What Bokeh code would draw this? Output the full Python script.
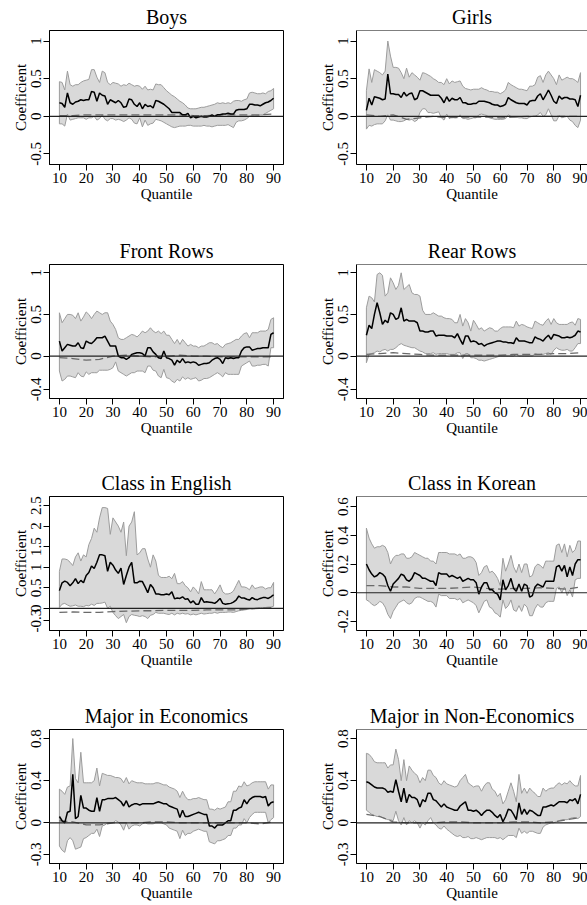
from bokeh.plotting import figure
from bokeh.layouts import column, row
from bokeh.models import FixedTicker, Span, BoxAnnotation
from bokeh.embed import file_html
from bokeh.resources import INLINE

# ---------------- data ----------------
quantiles = list(range(10, 91))
dash_quantiles = list(range(10, 91, 5))
x_ticks = [10, 20, 30, 40, 50, 60, 70, 80, 90]

titles = ["Boys", "Girls", "Front Rows", "Rear Rows",
          "Class in English", "Class in Korean",
          "Major in Economics", "Major in Non-Economics"]

boys_hi = [0.46,0.45,0.35,0.60,0.42,0.40,0.42,0.42,0.45,0.47,
           0.48,0.49,0.62,0.62,0.52,0.45,0.60,0.58,0.45,0.42,
           0.45,0.44,0.43,0.40,0.42,0.41,0.44,0.42,0.40,0.41,
           0.40,0.36,0.40,0.35,0.36,0.35,0.43,0.42,0.42,0.38,
           0.34,0.31,0.28,0.26,0.23,0.20,0.18,0.15,0.11,0.10,
           0.10,0.10,0.11,0.12,0.12,0.13,0.14,0.15,0.16,0.18,
           0.17,0.18,0.17,0.18,0.17,0.20,0.21,0.21,0.20,0.22,
           0.23,0.31,0.32,0.31,0.30,0.30,0.31,0.30,0.33,0.34,
           0.37]
boys_est = [0.18,0.17,0.12,0.31,0.18,0.16,0.19,0.20,0.22,0.21,
            0.22,0.22,0.33,0.32,0.20,0.31,0.28,0.27,0.16,0.22,
            0.20,0.18,0.21,0.18,0.12,0.13,0.23,0.22,0.16,0.13,
            0.18,0.10,0.16,0.13,0.14,0.11,0.21,0.20,0.18,0.16,
            0.13,0.10,0.05,0.05,0.05,0.05,0.02,0.02,0.04,-0.02,
            0.00,-0.02,-0.01,0.00,-0.01,-0.01,0.00,0.02,0.00,0.02,
            0.02,0.03,0.03,0.04,0.03,0.03,0.08,0.09,0.09,0.09,
            0.10,0.16,0.16,0.15,0.15,0.14,0.16,0.18,0.19,0.21,
            0.24]
boys_lo = [-0.10,-0.10,-0.13,0.03,-0.05,-0.04,-0.03,-0.02,-0.02,-0.02,
           -0.04,-0.02,-0.02,0.00,-0.05,-0.03,0.02,-0.04,-0.06,-0.03,
           -0.03,-0.05,-0.04,-0.05,-0.07,-0.05,-0.02,-0.04,-0.09,-0.10,
           -0.02,-0.14,-0.05,-0.12,-0.10,-0.09,-0.04,-0.05,-0.06,-0.08,
           -0.10,-0.12,-0.14,-0.15,-0.14,-0.13,-0.13,-0.13,-0.12,-0.12,
           -0.13,-0.13,-0.13,-0.13,-0.12,-0.13,-0.13,-0.14,-0.13,-0.12,
           -0.12,-0.12,-0.12,-0.11,-0.13,-0.15,-0.08,-0.06,-0.06,-0.05,
           -0.03,0.00,0.01,0.00,0.01,0.02,0.02,0.04,0.06,0.08,
           0.10]
boys_ols = [0.01,0.01,0.02,0.02,0.02,0.02,0.02,0.02,0.02,0.02,0.01,0.01,0.02,0.02,0.02,0.02,0.03]

girls_hi = [0.34,0.63,0.45,0.62,0.60,0.58,0.55,0.60,1.00,0.80,
            0.65,0.65,0.64,0.58,0.50,0.64,0.52,0.58,0.55,0.52,
            0.48,0.58,0.57,0.55,0.53,0.50,0.48,0.45,0.45,0.42,
            0.50,0.43,0.47,0.45,0.46,0.47,0.40,0.37,0.36,0.35,
            0.36,0.36,0.36,0.38,0.36,0.35,0.33,0.33,0.32,0.32,
            0.30,0.32,0.35,0.45,0.42,0.40,0.38,0.36,0.36,0.35,
            0.34,0.40,0.40,0.42,0.52,0.54,0.45,0.55,0.60,0.55,
            0.50,0.42,0.55,0.48,0.50,0.52,0.50,0.50,0.48,0.45,
            0.58]
girls_est = [0.08,0.24,0.15,0.26,0.25,0.24,0.22,0.23,0.56,0.30,
             0.30,0.29,0.29,0.25,0.32,0.27,0.30,0.31,0.22,0.24,
             0.34,0.34,0.32,0.30,0.28,0.28,0.28,0.28,0.24,0.18,
             0.26,0.20,0.24,0.22,0.22,0.25,0.18,0.18,0.16,0.16,
             0.17,0.17,0.20,0.20,0.20,0.19,0.18,0.16,0.15,0.15,
             0.13,0.14,0.16,0.25,0.22,0.20,0.18,0.17,0.17,0.17,
             0.15,0.20,0.21,0.21,0.27,0.30,0.22,0.28,0.35,0.28,
             0.20,0.17,0.27,0.23,0.25,0.25,0.23,0.23,0.22,0.13,
             0.28]
girls_lo = [-0.17,-0.12,-0.13,-0.11,-0.10,-0.10,-0.10,-0.06,0.02,-0.05,
            -0.05,-0.06,-0.07,-0.07,-0.06,-0.04,-0.05,-0.04,-0.07,-0.05,
            0.05,0.10,0.10,0.05,0.05,0.04,0.05,0.06,-0.02,-0.05,
            0.03,-0.03,0.00,-0.02,-0.02,0.02,-0.03,-0.03,-0.04,-0.03,
            -0.02,-0.02,0.02,0.03,0.02,0.01,-0.02,-0.03,-0.04,-0.04,
            -0.04,-0.04,-0.03,0.02,0.00,-0.01,-0.01,-0.02,-0.02,-0.03,
            -0.03,-0.01,0.00,0.00,0.02,0.05,0.00,0.02,0.10,0.02,
            -0.06,-0.06,0.01,-0.02,-0.01,0.00,-0.05,-0.07,-0.12,-0.15,
            -0.05]
girls_ols = [0.02,0.00,0.02,-0.04,-0.02,0.00,-0.02,-0.01,-0.01,-0.01,-0.02,-0.01,0.00,0.00,0.00,0.00,0.00]

front_hi = [0.52,0.40,0.45,0.50,0.50,0.49,0.45,0.52,0.42,0.47,
            0.53,0.50,0.45,0.50,0.54,0.52,0.50,0.52,0.52,0.42,
            0.38,0.32,0.22,0.20,0.20,0.22,0.24,0.26,0.25,0.23,
            0.26,0.30,0.28,0.30,0.34,0.30,0.28,0.30,0.27,0.30,
            0.25,0.25,0.20,0.15,0.20,0.14,0.20,0.16,0.12,0.14,
            0.12,0.12,0.10,0.12,0.12,0.14,0.16,0.16,0.14,0.15,
            0.12,0.10,0.14,0.15,0.16,0.18,0.20,0.20,0.24,0.27,
            0.28,0.22,0.28,0.28,0.28,0.30,0.30,0.30,0.32,0.44,
            0.46]
front_est = [0.18,0.06,0.10,0.14,0.13,0.12,0.12,0.16,0.10,0.09,
             0.18,0.16,0.15,0.18,0.22,0.22,0.22,0.24,0.18,0.12,
             0.12,0.12,0.00,-0.02,-0.02,-0.04,-0.02,0.02,0.03,0.04,
             0.04,0.03,0.00,0.10,0.10,0.05,0.02,-0.02,-0.03,0.06,
             -0.02,-0.03,-0.05,-0.11,-0.05,-0.08,-0.03,-0.08,-0.07,-0.08,
             -0.07,-0.08,-0.11,-0.10,-0.09,-0.09,-0.08,-0.05,-0.03,-0.02,
             -0.04,-0.09,-0.02,-0.03,-0.02,-0.03,-0.02,-0.02,0.06,0.10,
             0.11,0.11,0.07,0.08,0.09,0.09,0.10,0.10,0.10,0.26,
             0.28]
front_lo = [-0.18,-0.30,-0.28,-0.24,-0.24,-0.25,-0.26,-0.20,-0.24,-0.25,
            -0.19,-0.22,-0.20,-0.20,-0.20,-0.17,-0.17,-0.17,-0.17,-0.16,
            -0.14,-0.07,-0.18,-0.20,-0.22,-0.24,-0.22,-0.20,-0.20,-0.18,
            -0.18,-0.18,-0.20,-0.12,-0.12,-0.17,-0.18,-0.24,-0.26,-0.16,
            -0.26,-0.27,-0.30,-0.32,-0.28,-0.30,-0.25,-0.28,-0.26,-0.28,
            -0.27,-0.26,-0.30,-0.29,-0.27,-0.27,-0.26,-0.24,-0.22,-0.20,
            -0.22,-0.25,-0.20,-0.22,-0.22,-0.22,-0.22,-0.22,-0.12,-0.10,
            -0.08,-0.06,-0.12,-0.12,-0.11,-0.11,-0.10,-0.10,-0.12,0.10,
            0.10]
front_ols = [-0.02,-0.03,-0.05,-0.04,0.00,0.01,0.00,-0.01,0.00,0.01,0.00,0.00,-0.01,-0.01,-0.01,-0.01,-0.01]

rear_hi = [0.58,0.72,0.70,0.65,0.98,1.00,0.97,0.72,0.76,0.94,
           0.88,0.80,0.85,1.00,0.80,0.83,0.86,0.76,0.74,0.74,
           0.72,0.55,0.50,0.50,0.50,0.52,0.50,0.48,0.48,0.46,
           0.45,0.45,0.44,0.40,0.40,0.50,0.36,0.45,0.40,0.30,
           0.43,0.38,0.32,0.34,0.30,0.32,0.34,0.33,0.30,0.30,
           0.33,0.35,0.35,0.35,0.35,0.34,0.42,0.36,0.38,0.37,
           0.35,0.34,0.33,0.42,0.40,0.38,0.37,0.42,0.45,0.38,
           0.45,0.40,0.38,0.38,0.38,0.38,0.40,0.41,0.37,0.45,
           0.44]
rear_est = [0.25,0.37,0.33,0.50,0.64,0.52,0.38,0.43,0.40,0.52,
            0.50,0.44,0.46,0.58,0.42,0.44,0.42,0.42,0.42,0.40,
            0.30,0.30,0.29,0.29,0.30,0.30,0.24,0.25,0.25,0.25,
            0.24,0.24,0.24,0.22,0.27,0.20,0.14,0.24,0.24,0.17,
            0.18,0.17,0.14,0.15,0.12,0.14,0.15,0.16,0.17,0.18,
            0.18,0.17,0.17,0.16,0.16,0.15,0.22,0.18,0.18,0.18,
            0.17,0.16,0.16,0.23,0.21,0.20,0.18,0.22,0.25,0.20,
            0.26,0.25,0.24,0.22,0.22,0.23,0.22,0.23,0.25,0.30,
            0.29]
rear_lo = [-0.08,0.02,0.03,0.04,0.06,0.05,0.07,0.08,0.06,0.08,
           0.08,0.10,0.13,0.15,0.13,0.12,0.11,0.10,0.10,0.08,
           0.06,0.05,0.03,0.03,0.03,0.04,0.02,0.03,0.03,0.03,
           0.03,0.02,0.02,0.02,0.04,0.04,-0.03,0.03,0.03,-0.02,
           -0.02,-0.03,-0.05,-0.05,-0.06,-0.05,-0.04,-0.03,-0.02,-0.01,
           0.00,0.00,0.00,0.00,0.00,0.00,0.02,0.00,0.00,0.00,
           0.00,0.00,0.00,0.03,0.02,0.02,0.02,0.03,0.04,0.02,
           0.07,0.10,0.08,0.07,0.07,0.08,0.06,0.06,0.10,0.15,
           0.15]
rear_ols = [0.02,0.03,0.04,0.03,0.02,0.01,0.01,0.01,0.01,0.01,0.01,0.02,0.02,0.02,0.03,0.03,0.04]

english_hi = [0.90,1.20,1.20,1.18,1.12,1.04,1.25,1.35,1.15,1.30,
              1.25,1.55,1.70,1.95,1.85,2.20,2.45,2.45,2.43,1.80,
              2.20,2.10,2.00,1.85,2.10,1.28,2.00,2.10,2.35,1.30,
              1.35,1.45,1.45,1.20,1.00,1.30,1.15,0.80,0.75,0.75,
              0.75,0.78,0.72,0.85,0.60,0.60,0.65,0.55,0.50,0.40,
              0.52,0.45,0.35,0.65,0.45,0.45,0.45,0.45,0.35,0.45,
              0.57,0.40,0.35,0.35,0.37,0.42,0.55,0.68,0.52,0.52,
              0.50,0.45,0.57,0.48,0.50,0.52,0.52,0.47,0.50,0.50,
              0.63]
english_est = [0.43,0.62,0.66,0.63,0.55,0.62,0.72,0.60,0.68,0.62,
               0.80,0.87,1.03,0.97,1.12,1.30,1.30,1.28,0.90,1.12,
               1.05,0.93,0.85,0.98,0.58,0.80,1.00,1.12,0.62,0.62,
               0.66,0.65,0.52,0.38,0.58,0.50,0.35,0.35,0.33,0.33,
               0.35,0.33,0.40,0.23,0.25,0.24,0.28,0.22,0.23,0.13,
               0.18,0.10,0.10,0.26,0.15,0.16,0.15,0.14,0.12,0.17,
               0.24,0.12,0.10,0.11,0.12,0.15,0.20,0.30,0.25,0.25,
               0.22,0.20,0.26,0.22,0.21,0.24,0.26,0.26,0.24,0.28,
               0.33]
english_lo = [0.02,0.10,0.12,0.08,0.05,0.06,0.08,0.05,0.05,0.04,
              0.07,0.06,0.10,0.07,0.12,0.12,0.13,0.15,0.00,0.05,
              -0.10,-0.18,-0.25,-0.20,-0.15,-0.35,-0.20,-0.15,-0.17,-0.18,
              -0.20,-0.18,-0.20,-0.25,-0.17,-0.15,-0.10,-0.12,-0.12,-0.12,
              -0.14,-0.15,-0.12,-0.16,-0.12,-0.14,-0.12,-0.14,-0.13,-0.16,
              -0.14,-0.16,-0.14,-0.12,-0.14,-0.13,-0.12,-0.12,-0.10,-0.12,
              -0.10,-0.10,-0.10,-0.09,-0.09,-0.10,-0.08,-0.06,-0.05,-0.04,
              -0.03,-0.02,-0.01,0.00,0.01,0.02,0.02,0.02,0.03,0.03,
              0.05]
english_ols = [-0.10,-0.09,-0.10,-0.10,-0.08,-0.07,-0.06,-0.06,-0.05,-0.05,-0.05,-0.04,-0.04,-0.04,-0.02,0.00,0.02]

korean_hi = [0.45,0.38,0.34,0.31,0.32,0.32,0.33,0.32,0.28,0.20,
             0.24,0.26,0.26,0.27,0.27,0.24,0.24,0.25,0.28,0.27,
             0.26,0.25,0.24,0.24,0.22,0.22,0.20,0.28,0.28,0.28,
             0.28,0.27,0.27,0.27,0.26,0.27,0.24,0.24,0.25,0.25,
             0.24,0.21,0.12,0.14,0.18,0.19,0.14,0.15,0.13,0.10,
             0.05,0.24,0.15,0.20,0.26,0.18,0.14,0.20,0.14,0.20,
             0.20,0.11,0.12,0.18,0.20,0.19,0.17,0.22,0.22,0.22,
             0.22,0.33,0.34,0.28,0.34,0.25,0.33,0.28,0.30,0.36,
             0.36]
korean_est = [0.20,0.16,0.13,0.11,0.12,0.14,0.13,0.11,0.05,0.01,
              0.06,0.08,0.10,0.13,0.12,0.09,0.08,0.10,0.14,0.13,
              0.12,0.10,0.10,0.09,0.08,0.08,0.05,0.14,0.13,0.13,
              0.13,0.11,0.12,0.11,0.10,0.11,0.08,0.09,0.10,0.09,
              0.09,0.07,-0.01,0.04,0.07,0.07,0.02,0.02,0.00,-0.01,
              -0.05,0.09,0.02,0.05,0.10,0.03,0.01,0.06,0.01,0.06,
              0.05,-0.03,-0.02,0.04,0.06,0.05,0.04,0.08,0.08,0.08,
              0.08,0.18,0.19,0.15,0.19,0.11,0.18,0.12,0.20,0.23,
              0.23]
korean_lo = [-0.05,-0.06,-0.08,-0.09,-0.08,-0.06,-0.07,-0.10,-0.15,-0.18,
             -0.13,-0.10,-0.07,-0.06,-0.05,-0.07,-0.08,-0.07,-0.04,-0.03,
             -0.03,-0.04,-0.05,-0.06,-0.06,-0.07,-0.10,-0.01,-0.02,-0.02,
             -0.02,-0.04,-0.04,-0.04,-0.05,-0.04,-0.07,-0.06,-0.05,-0.06,
             -0.07,-0.09,-0.14,-0.10,-0.06,-0.05,-0.10,-0.11,-0.14,-0.15,
             -0.17,-0.05,-0.11,-0.09,-0.05,-0.12,-0.13,-0.09,-0.13,-0.08,
             -0.10,-0.16,-0.16,-0.11,-0.08,-0.10,-0.10,-0.07,-0.06,-0.06,
             -0.06,0.03,0.04,0.00,0.04,-0.02,0.02,-0.03,0.09,0.10,
             0.10]
korean_ols = [0.05,0.05,0.04,0.04,0.03,0.03,0.03,0.035,0.04,0.03,0.025,0.03,0.03,0.035,0.03,0.025,0.04]

econ_hi = [0.32,0.30,0.27,0.34,0.35,0.80,0.42,0.38,0.67,0.38,
           0.38,0.38,0.38,0.40,0.52,0.35,0.47,0.46,0.45,0.45,
           0.44,0.43,0.43,0.42,0.38,0.43,0.37,0.40,0.39,0.38,
           0.38,0.38,0.37,0.37,0.37,0.37,0.38,0.38,0.37,0.36,
           0.36,0.34,0.33,0.32,0.30,0.24,0.30,0.25,0.22,0.22,
           0.23,0.23,0.24,0.23,0.22,0.22,0.13,0.13,0.12,0.14,
           0.13,0.14,0.15,0.20,0.20,0.30,0.30,0.35,0.34,0.39,
           0.35,0.36,0.38,0.39,0.39,0.39,0.39,0.39,0.32,0.36,
           0.36]
econ_est = [0.06,0.02,0.00,0.10,0.11,0.46,0.04,0.06,0.26,0.14,
            0.14,0.12,0.11,0.11,0.24,0.11,0.22,0.22,0.23,0.23,
            0.23,0.24,0.22,0.20,0.16,0.21,0.15,0.17,0.18,0.18,
            0.17,0.18,0.18,0.18,0.18,0.18,0.19,0.20,0.19,0.18,
            0.18,0.16,0.15,0.14,0.13,0.05,0.12,0.06,0.06,0.07,
            0.08,0.09,0.10,0.09,0.08,0.08,-0.03,-0.03,-0.05,-0.02,
            -0.02,-0.02,0.00,0.02,0.02,0.12,0.12,0.14,0.15,0.22,
            0.18,0.22,0.24,0.25,0.25,0.25,0.24,0.25,0.16,0.19,
            0.20]
econ_lo = [-0.22,-0.26,-0.28,-0.17,-0.14,-0.17,-0.25,-0.24,-0.23,-0.15,
           -0.14,-0.12,-0.10,-0.10,-0.06,-0.13,-0.03,-0.02,0.00,0.00,
           0.00,0.02,0.01,-0.02,-0.07,0.00,-0.06,-0.03,-0.02,-0.02,
           -0.03,-0.01,0.00,-0.01,-0.01,-0.01,0.00,0.00,0.00,-0.01,
           -0.02,-0.05,-0.06,-0.07,-0.08,-0.15,-0.07,-0.12,-0.10,-0.10,
           -0.08,-0.07,-0.06,-0.07,-0.08,-0.08,-0.18,-0.19,-0.20,-0.17,
           -0.17,-0.16,-0.15,-0.12,-0.12,-0.05,-0.05,-0.02,-0.02,0.04,
           0.00,0.05,0.08,0.10,0.10,0.10,0.10,0.10,0.00,0.03,
           0.05]
econ_ols = [0.02,0.01,-0.02,-0.02,0.00,0.00,0.00,0.01,0.01,0.00,0.00,0.00,0.00,0.00,0.00,-0.01,0.01]

nonecon_hi = [0.66,0.65,0.62,0.58,0.57,0.57,0.57,0.57,0.52,0.55,
              0.55,0.70,0.60,0.40,0.60,0.40,0.54,0.50,0.47,0.45,
              0.38,0.43,0.40,0.50,0.50,0.45,0.43,0.38,0.36,0.40,
              0.37,0.36,0.35,0.34,0.35,0.40,0.43,0.46,0.38,0.36,
              0.34,0.35,0.35,0.30,0.35,0.38,0.38,0.32,0.30,0.25,
              0.28,0.18,0.22,0.30,0.38,0.30,0.20,0.46,0.28,0.33,
              0.28,0.33,0.30,0.28,0.25,0.25,0.33,0.30,0.32,0.33,
              0.33,0.36,0.38,0.36,0.38,0.37,0.40,0.37,0.35,0.35,
              0.45]
nonecon_est = [0.39,0.38,0.36,0.34,0.33,0.33,0.33,0.32,0.29,0.30,
               0.29,0.41,0.30,0.20,0.33,0.19,0.27,0.24,0.24,0.22,
               0.15,0.22,0.20,0.28,0.28,0.22,0.21,0.18,0.15,0.18,
               0.15,0.14,0.13,0.12,0.12,0.16,0.18,0.20,0.12,0.12,
               0.11,0.12,0.10,0.07,0.10,0.12,0.12,0.10,0.07,0.05,
               0.08,0.01,0.06,0.13,0.12,0.08,0.03,0.19,0.08,0.13,
               0.08,0.12,0.11,0.09,0.07,0.07,0.15,0.15,0.16,0.17,
               0.16,0.18,0.20,0.20,0.20,0.19,0.22,0.21,0.23,0.18,
               0.27]
nonecon_lo = [0.12,0.10,0.08,0.07,0.06,0.06,0.05,0.04,0.03,0.03,
              0.02,0.11,0.02,-0.02,0.05,-0.02,0.02,0.00,0.02,0.00,
              -0.05,0.00,-0.02,0.02,0.05,0.00,-0.02,-0.05,-0.06,-0.03,
              -0.06,-0.08,-0.10,-0.12,-0.13,-0.12,-0.14,-0.14,-0.13,-0.15,
              -0.15,-0.14,-0.15,-0.16,-0.15,-0.14,-0.14,-0.14,-0.14,-0.15,
              -0.14,-0.16,-0.14,-0.12,-0.12,-0.12,-0.14,-0.05,-0.10,-0.08,
              -0.10,-0.08,-0.08,-0.09,-0.10,-0.10,-0.04,-0.02,-0.01,0.00,
              0.00,0.01,0.02,0.03,0.03,0.03,0.04,0.05,0.05,0.04,
              0.06]
nonecon_ols = [0.08,0.06,0.01,0.00,0.00,0.00,0.01,0.01,0.00,0.00,0.00,0.01,0.01,0.00,0.01,0.03,0.05]

# y-axis ticks and their labels for each panel
y_ticks = [[-0.5, 0, 0.5, 1], [-0.5, 0, 0.5, 1],
           [-0.4, 0, 0.5, 1], [-0.4, 0, 0.5, 1],
           [-0.3, 0, 0.5, 1, 1.5, 2, 2.5], [-0.2, 0, 0.2, 0.4, 0.6],
           [-0.3, 0, 0.4, 0.8], [-0.3, 0, 0.4, 0.8]]
y_tick_labels = [["-0.5", "0", "0.5", "1"], ["-0.5", "0", "0.5", "1"],
                 ["-0.4", "0", "0.5", "1"], ["-0.4", "0", "0.5", "1"],
                 ["-0.3", "0", "0.5", "1", "1.5", "2", "2.5"],
                 ["-0.2", "0", "0.2", "0.4", "0.6"],
                 ["-0.3", "0", "0.4", "0.8"], ["-0.3", "0", "0.4", "0.8"]]

series = [
    (boys_est, boys_lo, boys_hi, boys_ols),
    (girls_est, girls_lo, girls_hi, girls_ols),
    (front_est, front_lo, front_hi, front_ols),
    (rear_est, rear_lo, rear_hi, rear_ols),
    (english_est, english_lo, english_hi, english_ols),
    (korean_est, korean_lo, korean_hi, korean_ols),
    (econ_est, econ_lo, econ_hi, econ_ols),
    (nonecon_est, nonecon_lo, nonecon_hi, nonecon_ols),
]

# ---------------- layout / style ----------------
y_ranges = [(-0.64, 1.14), (-0.64, 1.14),
            (-0.51, 1.10), (-0.51, 1.10),
            (-0.54, 2.72), (-0.263, 0.67),
            (-0.386, 0.886), (-0.386, 0.886)]

FONT = "Liberation Serif"
FRAME_H = 134
TOP = 30
row_bottoms = [70, 68, 69, 41]


def make_panel(i):
    col = i % 2
    r = i // 2
    est, lo, hi, ols = series[i]
    bottom = row_bottoms[r]
    height = TOP + FRAME_H + bottom
    if col == 0:
        width, left, right = 314, 49, 31
        xr = (6.3, 93.7)
    else:
        width, left, right = 273, 42, 0
        xr = (6.3, 92.6)

    p = figure(width=width, height=height, x_range=xr, y_range=y_ranges[i],
               output_backend="svg", toolbar_location=None,
               min_border_left=left, min_border_right=right,
               min_border_top=TOP, min_border_bottom=bottom,
               background_fill_color="white", border_fill_color="white")
    p.title.text = titles[i]
    p.title.align = "center"
    p.title.text_font = FONT
    p.title.text_font_size = "20px"
    p.title.text_font_style = "normal"
    p.title.text_color = "black"
    p.title.standoff = 6

    p.xgrid.visible = False
    p.ygrid.visible = False

    if col == 0:
        p.outline_line_color = "black"
        p.outline_line_width = 1
        p.outline_line_alpha = 1
    else:
        p.outline_line_color = None
        p.add_layout(BoxAnnotation(left=None, bottom=None, top=None, right=1000,
                                   fill_alpha=0, line_color="black", line_width=1,
                                   line_alpha=1))

    # band
    p.patch(quantiles + quantiles[::-1], hi + lo[::-1],
            fill_color="#d9d9d9", line_color="#9c9c9c", line_width=1)
    # dashed reference line
    p.line(dash_quantiles, ols, line_color="#6a6a6a", line_width=1.3, line_dash="8 4")
    # estimates
    p.line(quantiles, est, line_color="black", line_width=1.5)
    # zero line
    p.add_layout(Span(location=0, dimension="width", line_color="#222222",
                      line_width=1.2))

    for ax in (p.xaxis[0], p.yaxis[0]):
        ax.major_tick_out = 6
        ax.major_tick_in = 0
        ax.minor_tick_line_color = None
        ax.major_tick_line_color = "black"
        ax.axis_line_color = "black"
        ax.major_label_text_font = FONT
        ax.major_label_text_font_size = "15px"
        ax.major_label_text_color = "black"
        ax.major_label_standoff = 2
        ax.axis_label_text_font = FONT
        ax.axis_label_text_font_size = "15px"
        ax.axis_label_text_font_style = "normal"
        ax.axis_label_text_color = "black"
        ax.axis_label_standoff = 0

    p.xaxis.ticker = FixedTicker(ticks=x_ticks)
    p.xaxis.axis_label = "Quantile"
    p.yaxis.ticker = FixedTicker(ticks=y_ticks[i])
    p.yaxis.major_label_overrides = {v: s for v, s in zip(y_ticks[i], y_tick_labels[i])}
    p.yaxis.major_label_orientation = "vertical"
    p.yaxis.axis_label = "Coefficient"
    return p


panels = [make_panel(i) for i in range(8)]
layout = column(*[row(panels[2 * k], panels[2 * k + 1]) for k in range(4)])

open("out.html", "w").write(file_html(layout, INLINE))
